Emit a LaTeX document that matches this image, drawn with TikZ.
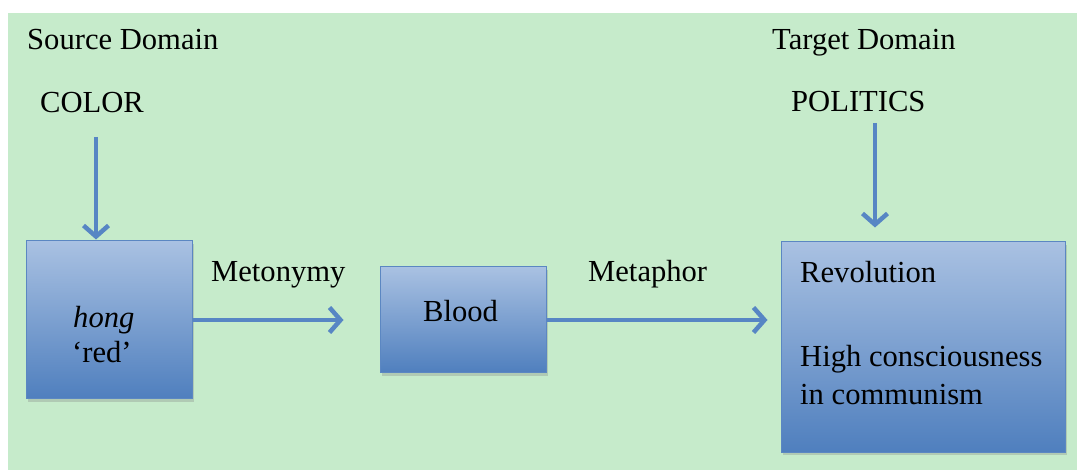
\documentclass[tikz,border=0pt]{standalone}
\usepackage{fontspec}
\setmainfont{Liberation Serif}
\usetikzlibrary{arrows.meta,shadows}
\definecolor{bggreen}{HTML}{C6EBCB}
\definecolor{boxtop}{HTML}{A9C1E2}
\definecolor{boxbot}{HTML}{4F7FBE}
\definecolor{boxline}{HTML}{5B87C2}
\definecolor{arrowblue}{HTML}{5786C4}
\begin{document}
\begin{tikzpicture}[x=1pt,y=-1pt,
  lbl/.style={anchor=base west,inner sep=0pt,font=\fontsize{30.6}{36}\selectfont},
  conceptbox/.style={draw=boxline,line width=1pt,inner sep=0pt,
    top color=boxtop,bottom color=boxbot,
    drop shadow={shadow xshift=2pt,shadow yshift=-3pt,opacity=.3,fill=black!50}},
  arr/.style={draw=arrowblue,line width=4.5pt,
    -{Straight Barb[length=11pt,width=25pt]}}]
  % canvas
  \useasboundingbox (0,0) rectangle (1077,470);
  \fill[white] (0,0) rectangle (1077,470);
  \fill[bggreen] (8,13) rectangle (1077,470);

  % boxes
  \node[conceptbox,minimum width=166pt,minimum height=158pt] (hong) at (109,320) {};
  \node[conceptbox,minimum width=166pt,minimum height=106pt] (blood) at (463,320) {};
  \node[conceptbox,minimum width=284pt,minimum height=210pt] (target) at (923,347) {};

  % headings
  \node[lbl] (srcdom) at (27,50) {Source Domain};
  \node[lbl] (tgtdom) at (772,50) {Target Domain};
  \node[lbl] (color) at (40,113) {COLOR};
  \node[lbl] (politics) at (791,112) {POLITICS};

  % box contents
  \node[lbl] (hongtxt) at (73,328) {\itshape hong};
  \node[lbl] (redtxt) at (72,363) {‘red’};
  \node[lbl] (bloodtxt) at (423,322) {Blood};
  \node[lbl] (revtxt) at (800,283) {Revolution};
  \node[lbl] (hightxt) at (800,367) {High consciousness};
  \node[lbl] (commtxt) at (800,405) {in communism};

  % mapping labels
  \node[lbl] (metonymy) at (211,282) {Metonymy};
  \node[lbl] (metaphor) at (588,282) {Metaphor};

  % connectors
  \coordinate (colorfoot) at (96,137);
  \coordinate (politicsfoot) at (875,123);
  \draw[arr,shorten >=1pt] (colorfoot) -- (colorfoot |- hong.north);
  \draw[arr,shorten >=14pt] (politicsfoot) -- (politicsfoot |- target.north);
  \draw[arr,shorten >=36pt] (hong.east) -- (blood.west);
  \draw[arr,shorten >=13pt] (blood.east) -- (blood.east -| target.west);
\end{tikzpicture}
\end{document}
